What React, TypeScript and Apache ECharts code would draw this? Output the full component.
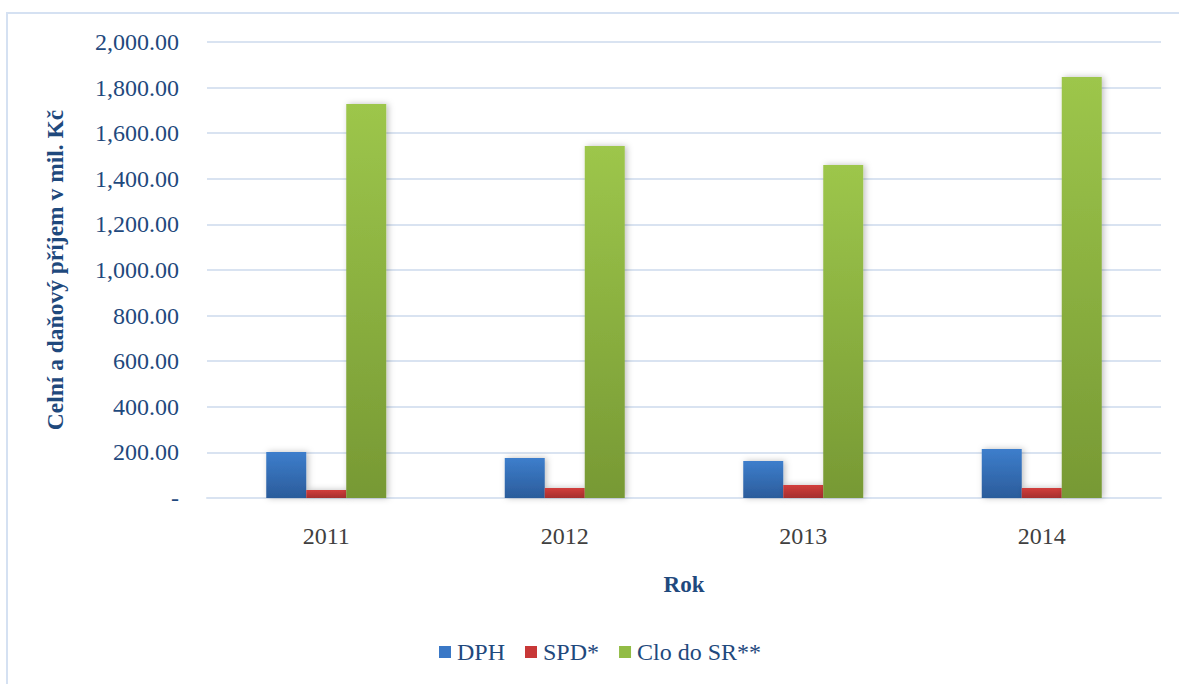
import React, { useEffect, useRef } from "react";
import * as echarts from "echarts";

const categories = ["2011", "2012", "2013", "2014"];
const dph = [202, 175, 162, 215];
const spd = [35, 44, 57, 44];
const clo = [1728, 1544, 1460, 1846];
const seriesNames = ["DPH", "SPD*", "Clo do SR**"];

const FONT = "Liberation Serif, Times New Roman, serif";
const TXT = "#1F497D";

function grad(top: string, bottom: string) {
  return new echarts.graphic.LinearGradient(0, 0, 0, 1, [
    { offset: 0, color: top },
    { offset: 1, color: bottom },
  ]);
}

export default function App() {
  const ref = useRef<HTMLDivElement>(null);
  useEffect(() => {
    if (!ref.current) return;
    const chart = echarts.init(ref.current, undefined, { renderer: "svg" });
    const barStyle = (top: string, bottom: string) => ({
      color: grad(top, bottom),
      shadowBlur: 6,
      shadowColor: "rgba(0,0,0,0.25)",
      shadowOffsetX: 2,
      shadowOffsetY: 0,
    });
    chart.setOption({
      animation: false,
      backgroundColor: "#ffffff",
      textStyle: { fontFamily: FONT },
      graphic: [
        {
          type: "rect",
          shape: { x: 7, y: 13, width: 1250, height: 750 },
          style: { fill: "none", stroke: "#D5E1F2", lineWidth: 2 },
          silent: true,
          z: -10,
        },
      ],
      grid: { left: 207, right: 18, top: 42, bottom: 186 },
      legend: {
        bottom: 15,
        left: 434,
        itemWidth: 12,
        itemHeight: 12,
        itemGap: 20,
        icon: "rect",
        textStyle: { fontFamily: FONT, fontSize: 24, color: TXT, padding: [0, 0, 0, 1] },
        data: [
          { name: seriesNames[0], itemStyle: { color: "#3A78C6" } },
          { name: seriesNames[1], itemStyle: { color: "#C83837" } },
          { name: seriesNames[2], itemStyle: { color: "#92BC45" } },
        ],
      },
      xAxis: {
        type: "category",
        data: categories,
        name: "Rok",
        nameLocation: "middle",
        nameGap: 75,
        nameTextStyle: { fontFamily: FONT, fontSize: 23, fontWeight: "bold", color: TXT },
        axisLine: { show: true, lineStyle: { color: "#D9E3F1", width: 2 } },
        axisTick: { show: false },
        axisLabel: { fontFamily: FONT, fontSize: 24, color: "#404040", margin: 26 },
      },
      yAxis: {
        type: "value",
        min: 0,
        max: 2000,
        interval: 200,
        name: "Celní a daňový příjem v mil. Kč",
        nameLocation: "middle",
        nameGap: 140,
        nameTextStyle: { fontFamily: FONT, fontSize: 23.5, fontWeight: "bold", color: TXT },
        axisLine: { show: false },
        axisTick: { show: false },
        splitLine: { lineStyle: { color: "#D9E3F1", width: 2 } },
        axisLabel: {
          fontFamily: FONT,
          fontSize: 24,
          color: TXT,
          margin: 28,
          formatter: (v: number) =>
            v === 0
              ? "-"
              : v.toLocaleString("en-US", { minimumFractionDigits: 2, maximumFractionDigits: 2 }),
        },
      },
      series: [
        {
          name: seriesNames[0],
          type: "bar",
          data: dph,
          barWidth: 40,
          barGap: "0%",
          itemStyle: barStyle("#3D7ECC", "#2B5C9B"),
        },
        {
          name: seriesNames[1],
          type: "bar",
          data: spd,
          barWidth: 40,
          barGap: "0%",
          itemStyle: barStyle("#D23E3C", "#A52F2E"),
        },
        {
          name: seriesNames[2],
          type: "bar",
          data: clo,
          barWidth: 40,
          barGap: "0%",
          itemStyle: barStyle("#9DC64B", "#779934"),
        },
      ],
    });
    return () => chart.dispose();
  }, []);
  return (
    <div
      ref={ref}
      style={{ position: "fixed", left: 0, top: 0, width: 1179, height: 684, background: "#fff" }}
    />
  );
}
